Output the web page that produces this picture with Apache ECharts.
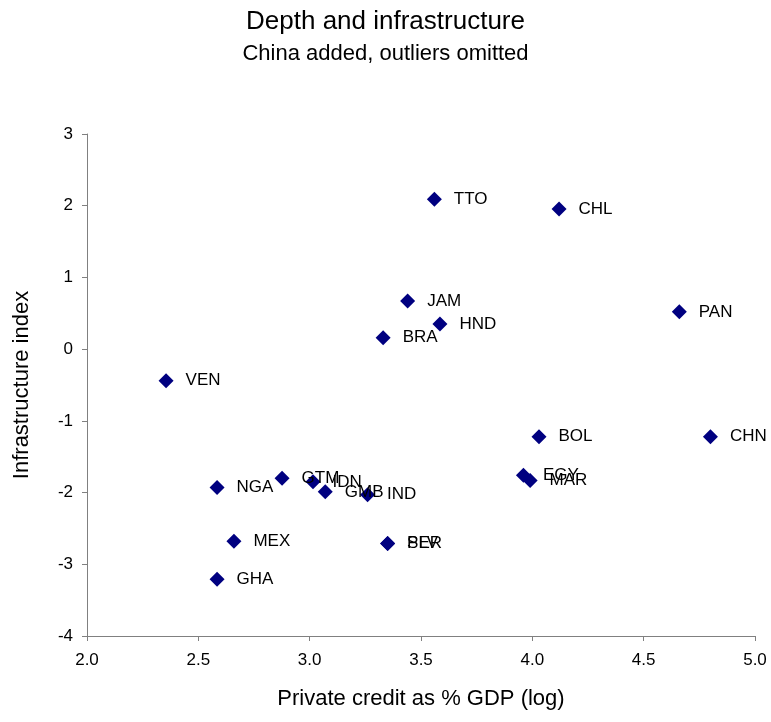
<!DOCTYPE html>
<html>
<head>
<meta charset="utf-8">
<script src="https://cdn.jsdelivr.net/npm/echarts@6/dist/echarts.min.js"></script>
<style>html,body{margin:0;padding:0;background:#fff}#c{width:771px;height:722px}</style>
</head>
<body>
<div id="c"></div>
<script>
const countries = ['TTO','CHL','PAN','JAM','HND','BRA','VEN','BOL','CHN','EGY','MAR','NGA','GTM','IDN','GMB','IND','MEX','GHA','PER','SLV'];
const privateCredit = [3.56,4.12,4.66,3.44,3.585,3.33,2.355,4.03,4.80,3.96,3.99,2.584,2.876,3.015,3.07,3.26,2.66,2.584,3.35,3.35];
const infrastructure = [2.09,1.955,0.52,0.67,0.35,0.16,-0.44,-1.22,-1.22,-1.76,-1.83,-1.93,-1.80,-1.85,-1.99,-2.03,-2.68,-3.21,-2.71,-2.71];
const xTicks = [2.0,2.5,3.0,3.5,4.0,4.5,5.0];
const yTicks = [-4,-3,-2,-1,0,1,2,3];

const data = countries.map((n,i)=>({name:n, value:[privateCredit[i], infrastructure[i]]}));
const font = 'Liberation Sans, Arial, sans-serif';
const chart = echarts.init(document.getElementById('c'));
chart.setOption({
  backgroundColor:'#fff',
  animation:false,
  title:[
    {text:'Depth and infrastructure', left:'center', top:4, textStyle:{fontFamily:font, fontSize:26, fontWeight:'normal', color:'#000'}},
    {text:'China added, outliers omitted', left:'center', top:38, textStyle:{fontFamily:font, fontSize:22, fontWeight:'normal', color:'#000'}}
  ],
  grid:{left:87, right:16, top:134, bottom:86},
  xAxis:{
    type:'value', min:2, max:5, interval:0.5,
    name:'Private credit as % GDP (log)', nameLocation:'middle', nameGap:52,
    nameTextStyle:{fontFamily:font, fontSize:22, color:'#000'},
    axisLine:{show:true, onZero:false, lineStyle:{color:'#808080', width:1}},
    axisTick:{show:true, inside:false, length:5, lineStyle:{color:'#808080'}},
    axisLabel:{fontFamily:font, fontSize:17, color:'#000', margin:16, formatter:v=>xTicks.includes(v)?v.toFixed(1):''},
    splitLine:{show:false}
  },
  yAxis:{
    type:'value', min:-4, max:3, interval:1,
    name:'Infrastructure index', nameLocation:'middle', nameGap:54,
    nameTextStyle:{fontFamily:font, fontSize:22, color:'#000'},
    axisLine:{show:true, onZero:false, lineStyle:{color:'#808080', width:1}},
    axisTick:{show:true, inside:false, length:5, lineStyle:{color:'#808080'}},
    axisLabel:{fontFamily:font, fontSize:17, color:'#000', margin:14, formatter:v=>yTicks.includes(v)?String(v):''},
    splitLine:{show:false}
  },
  series:[{
    type:'scatter',
    symbol:'diamond',
    symbolSize:15,
    itemStyle:{color:'#000080', opacity:1},
    data:data,
    label:{show:true, position:'right', distance:12, formatter:p=>p.name, fontFamily:font, fontSize:17, color:'#000'},
    labelLayout:{hideOverlap:false}
  }]
});
</script>
</body>
</html>
